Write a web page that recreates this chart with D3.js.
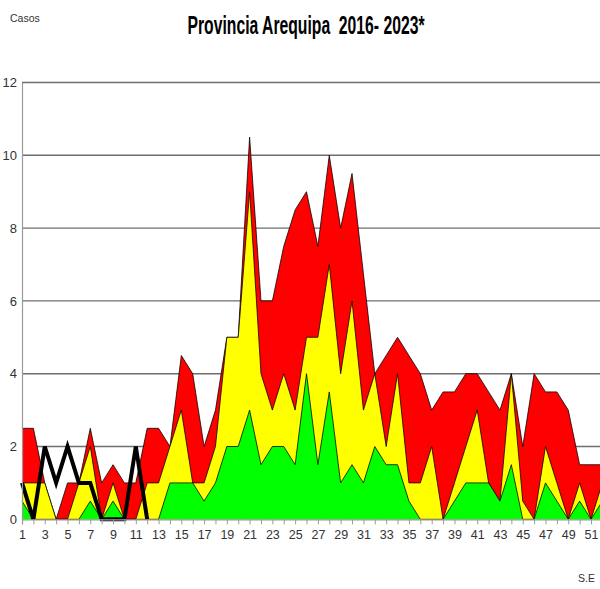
<!DOCTYPE html>
<html><head><meta charset="utf-8">
<script src="https://cdn.jsdelivr.net/npm/d3@7"></script>
<style>
body{margin:0;background:#fff;}
svg{display:block;}
text{font-family:"Liberation Sans Narrow","Arial Narrow","Liberation Sans",Arial,sans-serif;}
.title{white-space:pre;}
</style></head>
<body>
<svg id="c" width="600" height="589"></svg>
<script>
const weeks = d3.range(1, 53);
// Q3 (alarm zone top) - red
const redQ3 = [2.5,2.5,1,0,1,1,2.5,1,1.5,1,1,2.5,2.5,2,4.5,4,2,3,5,5,10.5,6,6,7.5,8.5,9,7.5,10,8,9.5,6.75,4,4.5,5,4.5,4,3,3.5,3.5,4,4,3.5,3,4,2,4,3.5,3.5,3,1.5,1.5,1.5];
// median (safety zone top) - yellow
const yellowMed = [1,1,1,0,0,1,2,0,1,0,0,1,1,2,3,1,1,2,5,5,9,4,3,4,3,5,5,7,4,6,3,4,2,4,1,1,2,0,1,2,3,1,0.5,4,0.5,0,2,1,0,1,0,1];
// Q1 (success zone top) - green
const greenQ1 = [0.5,0,0,0,0,0,0.5,0,0.5,0,0,0,0,1,1,1,0.5,1,2,2,3,1.5,2,2,1.5,4,1.5,3.5,1,1.5,1,2,1.5,1.5,0.5,0,0,0,0.5,1,1,1,0.5,1.5,0,0,1,0.5,0,0.5,0,0.5];
// 2023 cases
const weeks2023 = [1,2,3,4,5,6,7,8,9,10,11,12];
const cases2023 = [1,0,2,1,2,1,1,0,0,0,2,0];
const yTicks = [0,2,4,6,8,10,12];
const xTickLabels = d3.range(1, 53, 2);

const svg = d3.select("#c");
const x = d3.scaleLinear().domain([1, 52]).range([22, 602.4]);
const y = d3.scaleLinear().domain([0, 12]).range([519.3, 82.5]);

// gridlines
svg.append("g").selectAll("line").data(yTicks.filter(d => d > 0)).join("line")
  .attr("x1", 22).attr("x2", 600)
  .attr("y1", d => y(d)).attr("y2", d => y(d))
  .attr("stroke", "#6e6e6e").attr("stroke-width", 1.4);

const series = [
  {vals: redQ3, color: "#ff0000"},
  {vals: yellowMed, color: "#ffff00"},
  {vals: greenQ1, color: "#00ff00"}
];
const area = d3.area().x(d => x(d[0])).y0(y(0)).y1(d => y(d[1]));
const topLine = d3.line().x(d => x(d[0])).y(d => y(d[1]));
series.forEach(s => {
  const pts = weeks.map((w, i) => [w, s.vals[i]]);
  svg.append("path").attr("d", area(pts)).attr("fill", s.color).attr("stroke", "none");
  svg.append("path").attr("d", topLine(pts)).attr("fill", "none")
    .attr("stroke", "#000").attr("stroke-width", 0.9).attr("stroke-opacity", 0.85);
});

// 2023 line
svg.append("path")
  .attr("d", d3.line().x(d => x(d[0])).y(d => y(d[1]))(weeks2023.map((w, i) => [w, cases2023[i]])))
  .attr("fill", "none").attr("stroke", "#000").attr("stroke-width", 4)
  .attr("stroke-linejoin", "miter");

// axes
const yAxis = d3.axisLeft(y).tickValues(yTicks).tickSize(0).tickPadding(5);
const gy = svg.append("g").attr("transform", "translate(22,0)").call(yAxis);
gy.select(".domain").attr("stroke", "#9a9a9a").attr("stroke-width", 1.2);
gy.selectAll("text").attr("font-size", 13).attr("fill", "#333");

const xAxis = d3.axisBottom(x).tickValues(weeks).tickSize(5).tickFormat(d => (xTickLabels.includes(d) ? d : ""));
const gx = svg.append("g").attr("transform", `translate(0,${y(0)})`).call(xAxis);
gx.select(".domain").attr("stroke", "#9a9a9a").attr("stroke-width", 1.2);
gx.selectAll(".tick line").attr("stroke", "#9a9a9a");
gx.selectAll("text").attr("font-size", 12.5).attr("fill", "#333").attr("dy", "0.95em");

// titles
svg.append("text").attr("class", "title").attr("x", 306).attr("y", 34).attr("text-anchor", "middle")
  .attr("font-size", 26).attr("font-weight", "bold").attr("fill", "#000")
  .attr("textLength", 237).attr("lengthAdjust", "spacingAndGlyphs")
  .text("Provincia Arequipa  2016- 2023*");
svg.append("text").attr("x", 10).attr("y", 22).attr("font-size", 10.5).attr("fill", "#333").text("Casos");
svg.append("text").attr("x", 578).attr("y", 582).attr("font-size", 10.5).attr("fill", "#333").text("S.E");
</script>
</body></html>
